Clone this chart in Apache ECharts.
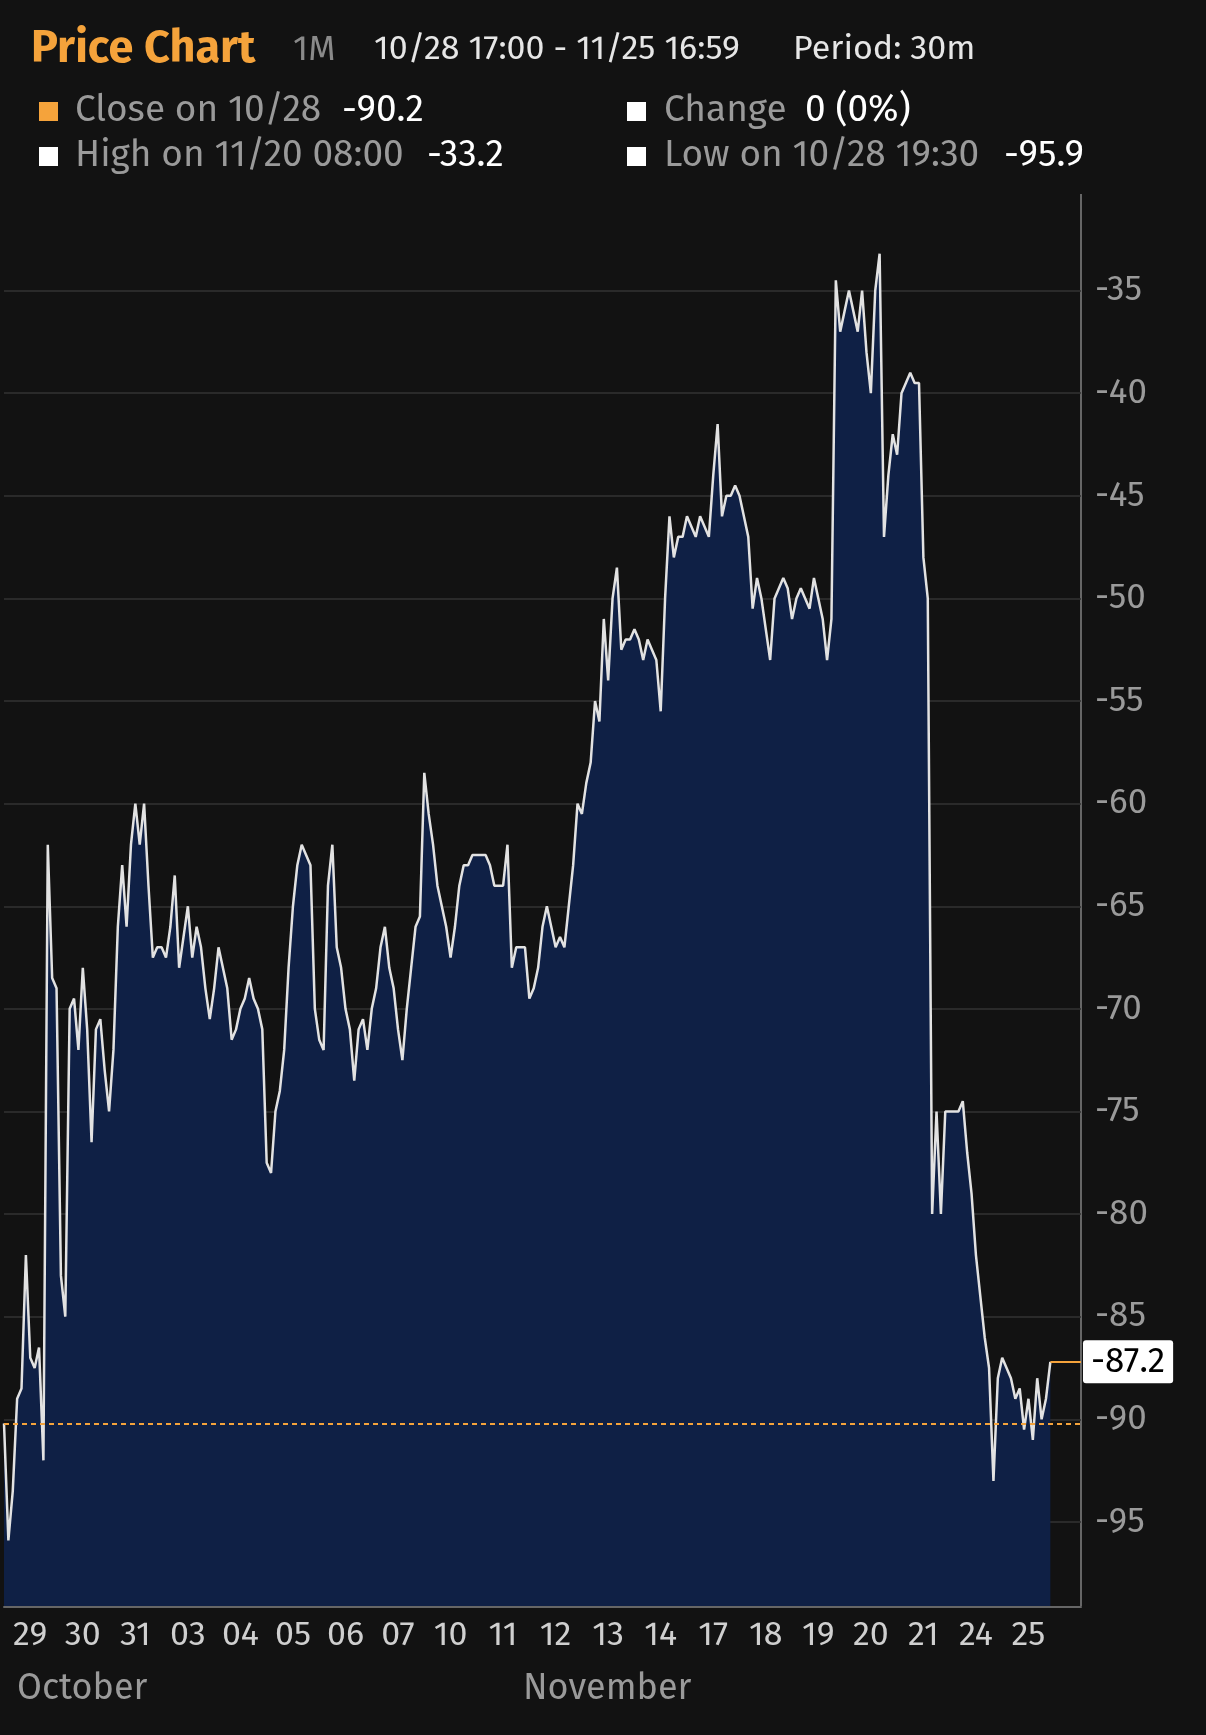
<!DOCTYPE html>
<html>
<head>
<meta charset="utf-8">
<script src="https://cdn.jsdelivr.net/npm/echarts@6/dist/echarts.min.js"></script>
<style>
  html, body { margin: 0; padding: 0; background: #121212; }
  #main { width: 1206px; height: 1735px; }
</style>
</head>
<body>
<div id="main"></div>
<script>
// day tick labels, 12 half-hour-ish samples per day
var days = ['29', '30', '31', '03', '04', '05', '06', '07', '10', '11', '12', '13', '14', '17', '18', '19', '20', '21', '24', '25'];
var perDay = 12;

var prices = [
  -90.2, -95.9, -93.5, -89, -88.5, -82, -87, -87.5, -86.5, -92, -62, -68.5,
  -69, -83, -85, -70, -69.5, -72, -68, -71, -76.5, -71, -70.5, -73,
  -75, -72, -66, -63, -66, -62, -60, -62, -60, -64, -67.5, -67,
  -67, -67.5, -66, -63.5, -68, -66.5, -65, -67.5, -66, -67, -69, -70.5,
  -69, -67, -68, -69, -71.5, -71, -70, -69.5, -68.5, -69.5, -70, -71,
  -77.5, -78, -75, -74, -72, -68, -65, -63, -62, -62.5, -63, -70,
  -71.5, -72, -64, -62, -67, -68, -70, -71, -73.5, -71, -70.5, -72,
  -70, -69, -67, -66, -68, -69, -71, -72.5, -70, -68, -66, -65.5,
  -58.5, -60.5, -62, -64, -65, -66, -67.5, -66, -64, -63, -63, -62.5,
  -62.5, -62.5, -62.5, -63, -64, -64, -64, -62, -68, -67, -67, -67,
  -69.5, -69, -68, -66, -65, -66, -67, -66.5, -67, -65, -63, -60,
  -60.5, -59, -58, -55, -56, -51, -54, -50, -48.5, -52.5, -52, -52,
  -51.5, -52, -53, -52, -52.5, -53, -55.5, -50, -46, -48, -47, -47,
  -46, -46.5, -47, -46, -46.5, -47, -44, -41.5, -46, -45, -45, -44.5,
  -45, -46, -47, -50.5, -49, -50, -51.5, -53, -50, -49.5, -49, -49.5,
  -51, -50, -49.5, -50, -50.5, -49, -50, -51, -53, -51, -34.5, -37,
  -36, -35, -36, -37, -35, -38, -40, -35, -33.2, -47, -44, -42,
  -43, -40, -39.5, -39, -39.5, -39.5, -48, -50, -80, -75, -80, -75,
  -75, -75, -75, -74.5, -77, -79, -82, -84, -86, -87.5, -93, -88,
  -87, -87.5, -88, -89, -88.5, -90.5, -89, -91, -88, -90, -89, -87.2
];
var padding = [null, null, null, null, null, null, null];
var closePrev = -90.2;
var lastPrice = -87.2;
var axisBottom = -99.1;

var cats = [];
for (var i = 0; i < prices.length + padding.length; i++) {
  var d = Math.floor(i / perDay);
  cats.push(i % perDay === 6 && d < days.length ? days[d] : '');
}
var values = prices.concat(padding);
var lastIdx = prices.length - 1;
var endIdx = cats.length - 1;

var grid = ['transparent'];
for (var k = 0; k < 13; k++) grid.push('#333333');
grid.push('transparent');

var FONT = '"Fira Sans", "Open Sans", sans-serif';
var txt = function (x, y, s, color, size, weight) {
  return { type: 'text', x: x, y: y, style: { text: s, fill: color, verticalAlign: 'middle', font: (weight || 'normal') + ' ' + size + 'px ' + FONT } };
};

var chart = echarts.init(document.getElementById('main'));
chart.setOption({
  backgroundColor: '#121212',
  animation: false,
  grid: { left: 4, right: 125, top: 188, bottom: 110.5 },
  xAxis: {
    type: 'category',
    data: cats,
    boundaryGap: false,
    offset: -18,
    axisLine: { show: true, lineStyle: { color: '#666', width: 2 } },
    axisTick: { show: false },
    axisLabel: {
      interval: 0, color: '#cfcfcf', fontSize: 34, margin: 12,
      fontFamily: FONT
    },
    splitLine: { show: false }
  },
  yAxis: {
    type: 'value',
    position: 'right',
    min: -100, max: -30, interval: 5,
    axisLine: { show: false },
    axisTick: { show: false },
    axisLabel: {
      color: '#9a9a9a', fontSize: 35, margin: 14, fontFamily: FONT,
      formatter: function (v) { return (v === -100 || v === -30) ? '' : v; }
    },
    splitLine: { lineStyle: { color: grid, width: 1.5 } }
  },
  graphic: [
    { type: 'line', shape: { x1: 1081, y1: 194, x2: 1081, y2: 1606 }, style: { stroke: '#666', lineWidth: 2 } },
    txt(31, 49, 'Price Chart', '#f5a33b', 45, 'bold'),
    txt(293, 50, '1M', '#8a8a8a', 35),
    txt(374, 50, '10/28 17:00 - 11/25 16:59', '#e6e6e6', 34),
    txt(793, 50, 'Period: 30m', '#e6e6e6', 34),
    { type: 'rect', shape: { x: 39, y: 102, width: 19, height: 19 }, style: { fill: '#f5a33b' } },
    txt(75, 111, 'Close on 10/28', '#9a9a9a', 37),
    txt(342, 111, '-90.2', '#ffffff', 37),
    { type: 'rect', shape: { x: 627, y: 102, width: 19, height: 19 }, style: { fill: '#ffffff' } },
    txt(664, 111, 'Change', '#9a9a9a', 37),
    txt(805, 111, '0 (0%)', '#ffffff', 37),
    { type: 'rect', shape: { x: 39, y: 147, width: 19, height: 19 }, style: { fill: '#ffffff' } },
    txt(75, 156, 'High on 11/20 08:00', '#9a9a9a', 37),
    txt(427, 156, '-33.2', '#ffffff', 37),
    { type: 'rect', shape: { x: 627, y: 147, width: 19, height: 19 }, style: { fill: '#ffffff' } },
    txt(664, 156, 'Low on 10/28 19:30', '#9a9a9a', 37),
    txt(1004, 156, '-95.9', '#ffffff', 37),
    txt(17, 1689, 'October', '#9a9a9a', 36),
    txt(523, 1689, 'November', '#9a9a9a', 36)
  ],
  series: [{
    type: 'line',
    data: values,
    symbol: 'none',
    lineStyle: { color: '#e2e2e2', width: 2.5 },
    areaStyle: { color: '#0f2045', opacity: 1, origin: axisBottom },
    markLine: {
      silent: true,
      symbol: 'none',
      data: [
        [{ xAxis: 0, yAxis: closePrev }, { xAxis: endIdx, yAxis: closePrev,
          lineStyle: { color: '#f5a33b', type: [5, 4], width: 2 }, label: { show: false } }],
        [{ xAxis: lastIdx, yAxis: lastPrice }, { xAxis: endIdx, yAxis: lastPrice,
          lineStyle: { color: '#f5a33b', type: 'solid', width: 2 },
          label: {
            show: true, position: 'end', formatter: String(lastPrice), distance: 2,
            color: '#000', backgroundColor: '#ffffff', fontSize: 35,
            padding: [4, 8, 4, 8], borderRadius: 3, fontFamily: FONT
          } }]
      ]
    }
  }]
});
</script>
</body>
</html>
